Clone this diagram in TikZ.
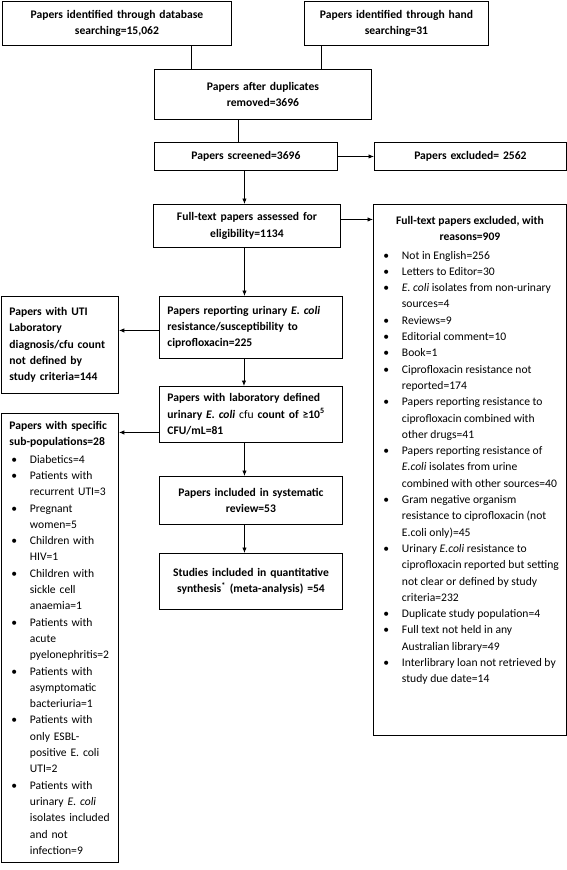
\documentclass[tikz,border=0pt]{standalone}
\usepackage{fontspec}
\setmainfont{Carlito}
\usetikzlibrary{arrows.meta}
\newcommand\fs{\fontsize{11.6}{16.3}\selectfont}
\newcommand\bitem[1]{\par\hangindent=18.5pt\hangafter=1\noindent\makebox[18.5pt][l]{\textbullet}{\let\\\newline #1}}
\begin{document}
\begin{tikzpicture}[x=1pt,y=-1pt,
  box/.style={draw, line width=0.9pt, anchor=north west, inner xsep=0pt, inner ysep=1pt, font=\fs\bfseries},
  cbox/.style={box, align=center},
  lbox/.style={box, align=left},
  arr/.style={line width=0.9pt, -{Latex[length=5.5pt,width=4.5pt]}},
  conn/.style={line width=0.9pt}]
\useasboundingbox (0,0) rectangle (567,870);
\fill[white] (0,0) rectangle (567,870);
% boxes
\node[cbox, text width=229pt, minimum height=44pt] (b1) at (2,1) {Papers identified through database\\searching=15,062};
\node[cbox, text width=184pt, minimum height=44pt] (b2) at (304,1) {Papers identified through hand\\searching=31};
\node[cbox, text width=217pt, minimum height=50pt] (b3) at (154,69) {Papers after duplicates\\removed=3696};
\node[cbox, text width=183pt, minimum height=28pt] (b4) at (154,142) {Papers screened=3696};
\node[cbox, text width=192pt, minimum height=28pt] (b5) at (374,142) {Papers excluded= 2562};
\node[cbox, text width=187pt, minimum height=43pt] (b6) at (153,204) {Full-text papers assessed for\\eligibility=1134};
\node[box, inner sep=0pt] (b7) at (373,204) {\parbox[t][531pt][t]{193pt}{\centering\rule{0pt}{20pt}Full-text papers excluded, with\\reasons=909\par\vspace{2pt}
\raggedright\mdseries\leftskip=10pt
\bitem{Not in English=256}
\bitem{Letters to Editor=30}
\bitem{\textit{E. coli} isolates from non-urinary\\sources=4}
\bitem{Reviews=9}
\bitem{Editorial comment=10}
\bitem{Book=1}
\bitem{Ciprofloxacin resistance not\\reported=174}
\bitem{Papers reporting resistance to\\ciprofloxacin combined with\\other drugs=41}
\bitem{Papers reporting resistance of\\\textit{E.coli} isolates from urine\\combined with other sources=40}
\bitem{Gram negative organism\\resistance to ciprofloxacin (not\\E.coli only)=45}
\bitem{Urinary \textit{E.coli} resistance to\\ciprofloxacin reported but setting\\not clear or defined by study\\criteria=232}
\bitem{Duplicate study population=4}
\bitem{Full text not held in any\\Australian library=49}
\bitem{Interlibrary loan not retrieved by\\study due date=14}\par}};
\node[lbox, text width=183pt, minimum height=62pt] (b8) at (159,296) {\leftskip=8pt\let\\\newline Papers reporting urinary \textit{E. coli}\\resistance/susceptibility to\\ciprofloxacin=225\par};
\node[lbox, text width=117pt, minimum height=97pt] (b9) at (1,296) {\leftskip=8pt\let\\\newline Papers with UTI\\Laboratory\\diagnosis/cfu count\\not defined by\\study criteria=144\par};
\node[lbox, text width=183pt, minimum height=56pt] (b10) at (159,386) {\leftskip=8pt\let\\\newline Papers with laboratory defined\\urinary \textit{E. coli} {\mdseries cfu} count of ≥10\textsuperscript{5}\\CFU/mL=81\par};
\node[lbox, text width=117pt, minimum height=449pt] (b11) at (1,413) {{\leftskip=8pt Papers with specific\newline sub-populations=28\par}\vspace{1pt}
\mdseries\leftskip=10pt
\bitem{Diabetics=4}
\bitem{Patients with\\recurrent UTI=3}
\bitem{Pregnant\\women=5}
\bitem{Children with\\HIV=1}
\bitem{Children with\\sickle cell\\anaemia=1}
\bitem{Patients with\\acute\\pyelonephritis=2}
\bitem{Patients with\\asymptomatic\\bacteriuria=1}
\bitem{Patients with\\only ESBL-\\positive E. coli\\UTI=2}
\bitem{Patients with\\urinary \textit{E. coli}\\isolates included\\and not\\infection=9}\par};
\node[cbox, text width=183pt, minimum height=48pt] (b12) at (159,476) {Papers included in systematic\\review=53};
\node[cbox, text width=183pt, minimum height=56pt] (b13) at (159,553) {Studies included in quantitative\\synthesis\textsuperscript{*} (meta-analysis) =54};
% connectors
\draw[conn] ([xshift=74.5pt]b1.south) -- ([xshift=74.5pt]b1.south |- b3.north);
\draw[conn] ([xshift=-75pt]b2.south) -- ([xshift=-75pt]b2.south |- b3.north);
\draw[conn] ([xshift=-24.5pt]b3.south) -- ([xshift=-24.5pt]b3.south |- b4.north);
\draw[arr] (b4.east) -- (b4.east -| b5.west);
\draw[arr] ([xshift=-1.5pt]b4.south) -- ([xshift=-1.5pt]b4.south |- b6.north);
\draw[arr] ([yshift=6.5pt]b6.east) -- ([yshift=6.5pt]b6.east -| b7.west);
\draw[arr] ([xshift=-2.5pt]b6.south) -- ([xshift=-2.5pt]b6.south |- b8.north);
\draw[arr] ([yshift=-3pt]b8.west) -- ([yshift=-3pt]b8.west -| b9.east);
\draw[arr] ([xshift=-7pt]b8.south) -- ([xshift=-7pt]b8.south |- b10.north);
\draw[arr] ([yshift=-18pt]b10.west) -- ([yshift=-18pt]b10.west -| b11.east);
\draw[arr] ([xshift=-6.5pt]b10.south) -- ([xshift=-6.5pt]b10.south |- b12.north);
\draw[arr] ([xshift=-6.5pt]b12.south) -- ([xshift=-6.5pt]b12.south |- b13.north);
\end{tikzpicture}
\end{document}
